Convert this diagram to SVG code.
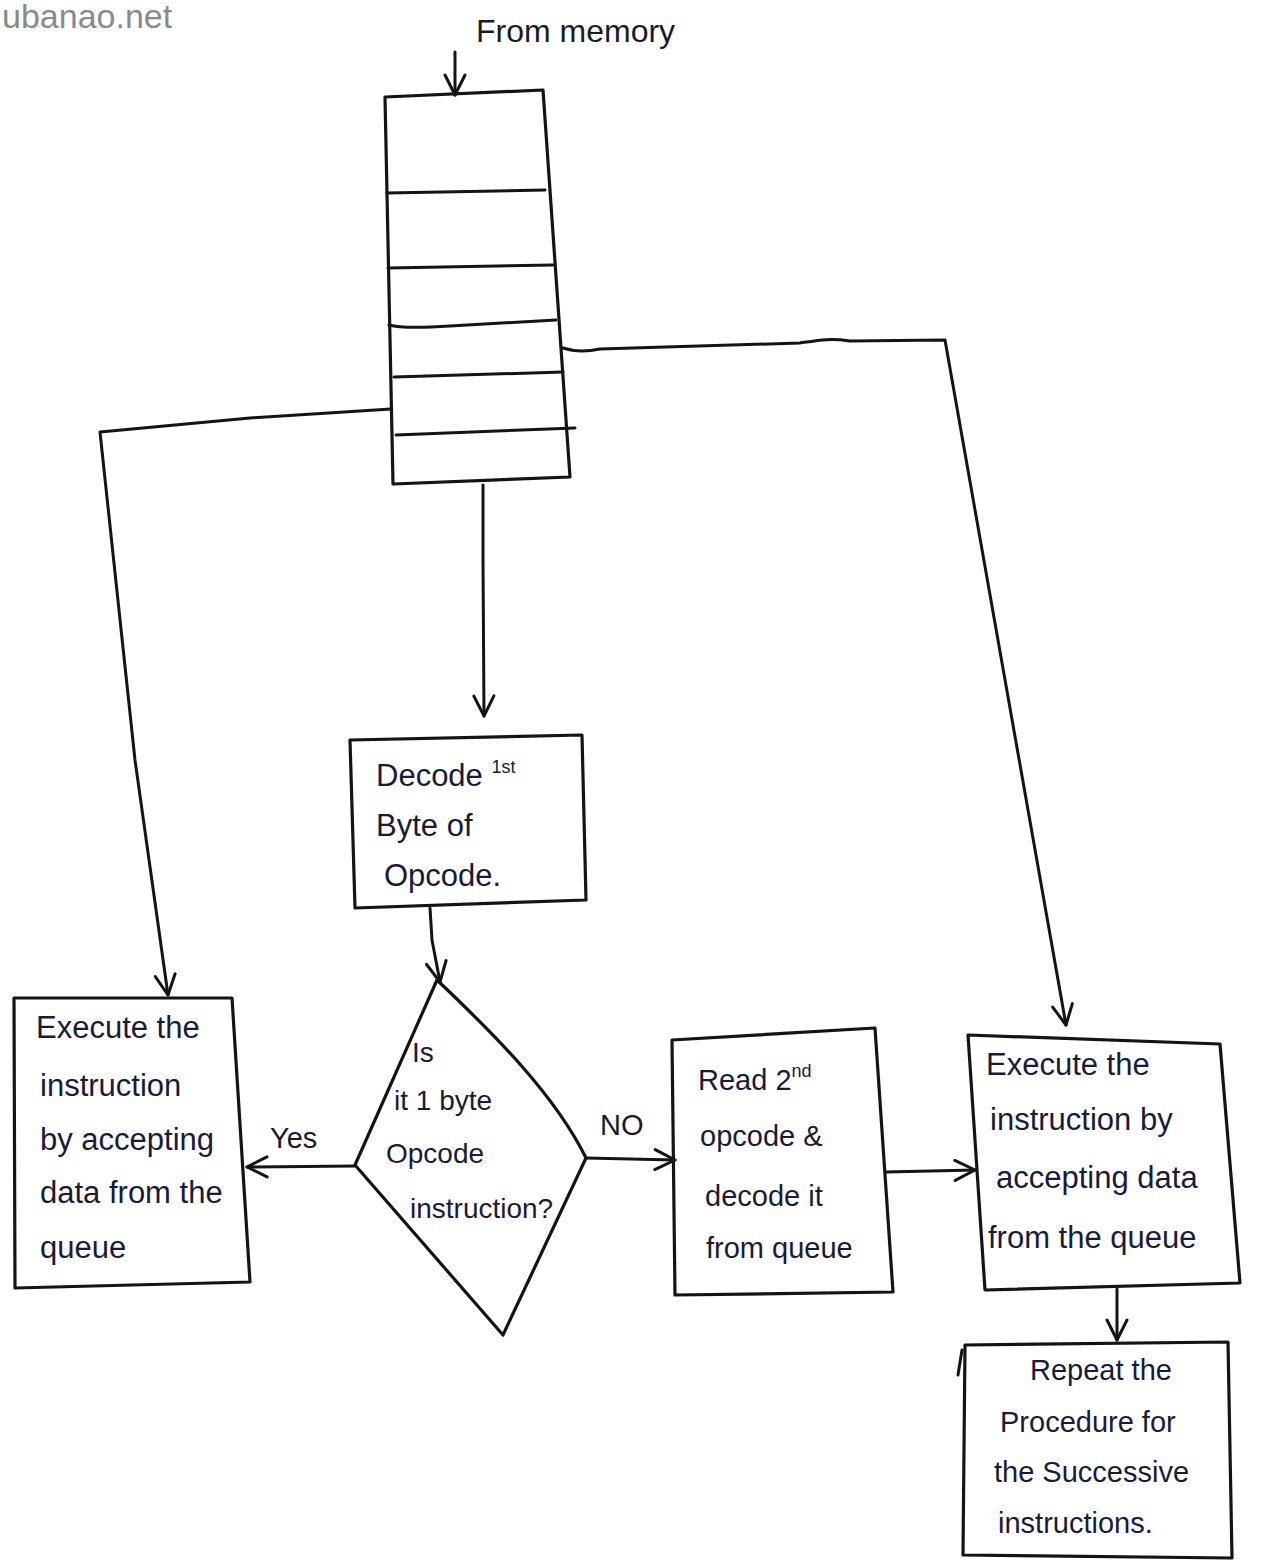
<svg xmlns="http://www.w3.org/2000/svg" width="1270" height="1562" viewBox="0 0 1270 1562">
<style>
.ln{fill:none;stroke:#141414;stroke-width:3;stroke-linecap:round;stroke-linejoin:round}
.box{fill:none;stroke:#141414;stroke-width:3.2;stroke-linejoin:round}
.t{font-family:"Liberation Sans",Arial,sans-serif;font-size:31px;fill:#1a1a3a}
.t2{font-family:"Liberation Sans",Arial,sans-serif;font-size:29px;fill:#1a1a3a}
.td{font-family:"Liberation Sans",Arial,sans-serif;font-size:28px;fill:#1a1a3a}
.lbl{font-family:"Liberation Sans",Arial,sans-serif;font-size:29px;fill:#1a1a2a}
.sup{font-size:18px}
.wm{font-family:"Liberation Sans",Arial,sans-serif;font-size:34px;fill:#8a8a8a}
</style>
<defs>
<marker id="ah" viewBox="0 0 12 12" refX="11" refY="6" markerWidth="24" markerHeight="24" markerUnits="userSpaceOnUse" orient="auto">
<path d="M1,1 L11,6 L1,11" fill="none" stroke="#141414" stroke-width="1.5" stroke-linecap="round" stroke-linejoin="round"/>
</marker>
</defs>
<rect x="0" y="0" width="1270" height="1562" fill="#ffffff"/>
<text class="wm" x="2" y="28">ubanao.net</text>

<g id="connectors">
<line class="ln" x1="455" y1="52" x2="455" y2="95" marker-end="url(#ah)"/>
<polyline class="ln" points="483,485 483,560 484,716" marker-end="url(#ah)"/>
<polyline class="ln" points="391,409 250,418 100,432 135,760 168,995" marker-end="url(#ah)"/>
<path class="ln" d="M563,348 C575,352 585,352 600,349 L800,343 C820,340 830,338 850,341 L945,340 L1066,1025" marker-end="url(#ah)"/>
<polyline class="ln" points="430,908 432,940 440,982" marker-end="url(#ah)"/>
<line class="ln" x1="355" y1="1166" x2="247" y2="1167" marker-end="url(#ah)"/>
<line class="ln" x1="586" y1="1158" x2="675" y2="1160" marker-end="url(#ah)"/>
<line class="ln" x1="886" y1="1172" x2="975" y2="1170" marker-end="url(#ah)"/>
<line class="ln" x1="1117" y1="1289" x2="1117" y2="1340" marker-end="url(#ah)"/>
</g>

<g id="label-yes"><text class="lbl" x="270" y="1148">Yes</text></g>
<g id="label-no"><text class="lbl" x="600" y="1135">NO</text></g>
<g id="label-from-memory"><text class="lbl" x="476" y="42" style="font-size:32px">From memory</text></g>

<g id="queue">
<polygon class="box" points="385,97 543,90 570,477 393,484"/>
<line class="ln" x1="387" y1="193" x2="545" y2="190"/>
<line class="ln" x1="388" y1="268" x2="553" y2="265"/>
<path class="ln" d="M389,325 C400,328 420,328 450,326 L556,320"/>
<line class="ln" x1="394" y1="377" x2="563" y2="372"/>
<line class="ln" x1="396" y1="435" x2="575" y2="428"/>
</g>

<g id="decode">
<polygon class="box" points="350,740 582,735 586,900 355,908"/>
<text class="t" x="376" y="786">Decode <tspan class="sup" dy="-13">1st</tspan></text>
<text class="t" x="376" y="836">Byte of</text>
<text class="t" x="384" y="886">Opcode.</text>
</g>

<g id="decision">
<path class="box" d="M437,980 C495,1035 555,1095 586,1158 L503,1335 L355,1165 Z"/>
<text class="td" x="412" y="1062">Is</text>
<text class="td" x="394" y="1110">it 1 byte</text>
<text class="td" x="386" y="1163">Opcode</text>
<text class="td" x="410" y="1218">instruction?</text>
</g>

<g id="execute-left">
<polygon class="box" points="14,998 232,998 250,1282 15,1288"/>
<text class="t" x="36" y="1038">Execute the</text>
<text class="t" x="40" y="1096">instruction</text>
<text class="t" x="40" y="1150">by accepting</text>
<text class="t" x="40" y="1203">data from the</text>
<text class="t" x="40" y="1258">queue</text>
</g>

<g id="read-second">
<polygon class="box" points="672,1040 875,1028 893,1292 675,1295"/>
<text class="t2" x="698" y="1090">Read 2<tspan class="sup" dy="-13">nd</tspan></text>
<text class="t2" x="700" y="1146">opcode &amp;</text>
<text class="t2" x="705" y="1206">decode it</text>
<text class="t2" x="706" y="1258">from queue</text>
</g>

<g id="execute-right">
<polygon class="box" points="968,1035 1220,1044 1240,1283 985,1290"/>
<text class="t" x="986" y="1075">Execute the</text>
<text class="t" x="990" y="1130">instruction by</text>
<text class="t" x="996" y="1188">accepting data</text>
<text class="t" x="988" y="1248">from the queue</text>
</g>

<g id="repeat">
<polygon class="box" points="965,1345 1228,1342 1232,1558 963,1555"/>
<line class="ln" x1="958" y1="1375" x2="962" y2="1350"/>
<text class="t2" x="1030" y="1380">Repeat the</text>
<text class="t2" x="1000" y="1432">Procedure for</text>
<text class="t2" x="994" y="1482">the Successive</text>
<text class="t2" x="998" y="1533">instructions.</text>
</g>
</svg>
